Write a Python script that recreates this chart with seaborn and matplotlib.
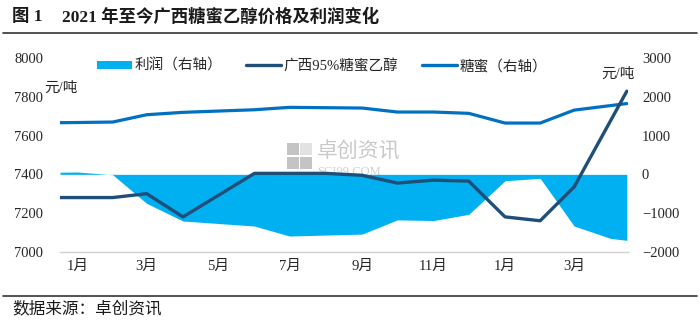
import matplotlib
matplotlib.use("Agg")
import matplotlib.pyplot as plt
import matplotlib.dates as mdates
from matplotlib.patches import Patch, Rectangle
from matplotlib.lines import Line2D
from matplotlib.ticker import NullFormatter, FuncFormatter
import seaborn as sns
import pandas as pd
import numpy as np

# ---------------- data ----------------
dates = ["2021-01-01", "2021-01-16", "2021-02-15", "2021-03-16", "2021-04-16",
         "2021-05-16", "2021-06-16", "2021-07-16", "2021-08-16", "2021-09-16",
         "2021-10-16", "2021-11-16", "2021-12-16", "2022-01-16", "2022-02-15",
         "2022-03-16", "2022-04-16", "2022-04-30"]
# 广西95%糖蜜乙醇 (left axis, 元/吨)
ethanol = [7280, 7280, 7280, 7300, 7180, np.nan, 7405, 7405, 7405, 7395,
           7355, 7370, 7365, 7180, 7160, 7335, np.nan, 7830]
# 糖蜜 (right axis, 元/吨)
molasses = [1335, 1340, 1352, 1541, 1603, np.nan, 1670, 1732, np.nan, 1714,
            1611, 1611, 1577, 1326, 1326, 1660, np.nan, 1830]
# 利润 (right axis, 元/吨)
profit = [55, 60, -10, -750, -1207, np.nan, -1336, -1595, -1570, -1545,
          -1177, -1194, -1034, -165, -103, -1336, -1655, -1706]

left_ticks = [7000, 7200, 7400, 7600, 7800, 8000]
right_ticks = [-2000, -1000, 0, 1000, 2000, 3000]
label_months = [1, 3, 5, 7, 9, 11]

series_names = ["利润（右轴）", "广西95%糖蜜乙醇", "糖蜜（右轴）"]
title_num = "图 1"
title_text = "2021 年至今广西糖蜜乙醇价格及利润变化"
source_text = "数据来源：卓创资讯"
unit_text = "元/吨"

# ---------------- style ----------------
sns.set_style("white")
plt.rcParams['font.family'] = ['Liberation Serif', 'Noto Sans CJK SC', 'DejaVu Sans']
plt.rcParams['axes.unicode_minus'] = True

c_profit = "#00B0F0"
c_ethanol = "#1F4E79"
c_molasses = "#0070C0"
txt_color = "#262626"

W, H = 700, 322
fig = plt.figure(figsize=(W / 100, H / 100), dpi=100)
fig.patch.set_facecolor("white")

x0, x1, ytop, ybot = 60, 628, 58.3, 251.7
ax = fig.add_axes([x0 / W, 1 - ybot / H, (x1 - x0) / W, (ybot - ytop) / H])
ax2 = ax.twinx()
ax.set_zorder(ax2.get_zorder() + 1)
ax.patch.set_visible(False)

df = pd.DataFrame({"date": pd.to_datetime(dates), "ethanol": ethanol,
                   "molasses": molasses, "profit": profit})

# watermark (behind the data)
ax2.text(0.452, 0.515, "卓创资讯", transform=ax.transAxes, fontsize=15,
         color="#c9c9c9", family=['Noto Sans CJK SC'], ha="left", va="center", zorder=0)
ax2.text(0.452, 0.41, "SCI99.COM", transform=ax.transAxes, fontsize=9,
         color="#d0d0d0", ha="left", va="center", zorder=0)
for (dx, dy, w, h, col) in [(0.0, 0.0, 0.02, 0.06, "#c4c4c4"),
                            (0.0, -0.07, 0.02, 0.06, "#c4c4c4"),
                            (0.023, -0.07, 0.02, 0.06, "#c4c4c4"),
                            (0.023, 0.0, 0.02, 0.06, "#e2e2e2")]:
    ax2.add_patch(Rectangle((0.40 + dx, 0.50 + dy), w, h, transform=ax.transAxes,
                            facecolor=col, edgecolor="none", zorder=0))

# profit area
p = df.dropna(subset=["profit"])
ax2.fill_between(p["date"], 0, p["profit"], color=c_profit, lw=0, zorder=2)
# molasses line
m = df.dropna(subset=["molasses"])
sns.lineplot(data=m, x="date", y="molasses", ax=ax2, color=c_molasses,
             lw=2.3, estimator=None, zorder=3)
# ethanol line
e = df.dropna(subset=["ethanol"])
sns.lineplot(data=e, x="date", y="ethanol", ax=ax, color=c_ethanol,
             lw=2.4, estimator=None, zorder=4)

# axes limits/ticks
ax.set_ylim(left_ticks[0], left_ticks[-1])
ax.set_yticks(left_ticks)
ax2.set_ylim(right_ticks[0], right_ticks[-1])
ax2.set_yticks(right_ticks)
ax.set_xlim(pd.Timestamp("2021-01-01"), pd.Timestamp("2022-05-01"))
ax.xaxis.set_major_locator(mdates.MonthLocator(bymonth=label_months, bymonthday=1))
ax.xaxis.set_major_formatter(NullFormatter())
ax.xaxis.set_minor_locator(mdates.MonthLocator(bymonth=label_months, bymonthday=16))
ax.xaxis.set_minor_formatter(FuncFormatter(lambda v, pos: f"{mdates.num2date(v).month}月"))

for a in (ax, ax2):
    a.set_xlabel("")
    a.set_ylabel("")
    for s in a.spines.values():
        s.set_visible(False)
ax.spines["bottom"].set_visible(True)
ax.spines["bottom"].set_color("#d0d0d0")
ax.spines["bottom"].set_linewidth(1.0)

ax.tick_params(axis="x", which="major", length=4, width=1, color="#d0d0d0", direction="out")
ax.tick_params(axis="x", which="minor", length=0, pad=6, labelsize=10.5, labelcolor=txt_color)
ax.tick_params(axis="y", length=0, pad=12, labelsize=10.5, labelcolor=txt_color)
ax2.tick_params(axis="y", length=0, pad=10, labelsize=10.5, labelcolor=txt_color)
ax.grid(False)
ax2.grid(False)

# legend
handles = [Patch(facecolor=c_profit, edgecolor="none"),
           Line2D([0], [0], color=c_ethanol, lw=2.4),
           Line2D([0], [0], color=c_molasses, lw=2.4)]
fig.legend(handles, series_names, loc="center", bbox_to_anchor=(322 / W, 1 - 66 / H),
           ncol=3, frameon=False, fontsize=10.5, handlelength=2.4, handleheight=0.5,
           columnspacing=1.6, handletextpad=0.2, labelcolor=txt_color)

# unit labels
fig.text(61 / W, 1 - 88 / H, unit_text, fontsize=10.5, ha="center", va="center", color=txt_color)
fig.text(618 / W, 1 - 74 / H, unit_text, fontsize=10.5, ha="center", va="center", color=txt_color)

# title, rules, source
fig.text(12 / W, 1 - 17 / H, title_num, fontsize=12.5, weight="bold", ha="left", va="center", color="#1a1a1a")
fig.text(62 / W, 1 - 17 / H, title_text, fontsize=12.5, weight="bold", ha="left", va="center", color="#1a1a1a")
fig.add_artist(Line2D([3 / W, 697 / W], [1 - 33 / H] * 2, transform=fig.transFigure, color="#333333", lw=1.2))
fig.add_artist(Line2D([3 / W, 697 / W], [1 - 296 / H] * 2, transform=fig.transFigure, color="#333333", lw=1.2))
fig.text(12 / W, 1 - 309 / H, source_text, fontsize=12, ha="left", va="center", color="#1a1a1a")

fig.savefig("out.png", dpi=100, facecolor="white")
